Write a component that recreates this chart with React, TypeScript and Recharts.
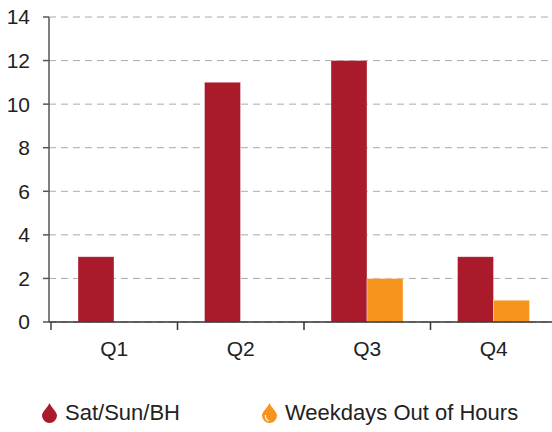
import { BarChart, Bar, XAxis, YAxis, CartesianGrid, Legend } from 'recharts';

const quarters = ['Q1', 'Q2', 'Q3', 'Q4'];
const weekendValues = [3, 11, 12, 3];
const weekdayValues = [0, 0, 2, 1];
const yTicks = [0, 2, 4, 6, 8, 10, 12, 14];

const series = [
  { key: 'weekend', name: 'Sat/Sun/BH', color: '#a91b2a' },
  { key: 'weekday', name: 'Weekdays Out of Hours', color: '#f7941e' },
];

const data = quarters.map((q, i) => ({
  quarter: q,
  weekend: weekendValues[i],
  weekday: weekdayValues[i],
}));

const FONT = '"Liberation Sans", Arial, sans-serif';
const TICK_MARGIN = 19;
const TICK_LEN = 8;

// category label at band centre, tick mark at band edge
const QuarterTick = (props: any) => {
  const { x, y, payload } = props;
  const half = payload?.offset ?? 0;
  const axisY = y - TICK_MARGIN;
  return (
    <g>
      {half > 0 && payload.index < quarters.length - 1 && (
        <line x1={x + half} x2={x + half} y1={axisY} y2={axisY + TICK_LEN} stroke="#333" strokeWidth={1.5} />
      )}
      {half > 0 && payload.index === 0 && (
        <line x1={x - half} x2={x - half} y1={axisY} y2={axisY + TICK_LEN} stroke="#444" strokeWidth={1.5} />
      )}
      <text x={x} y={y} dy="0.71em" textAnchor="middle" fontSize={21} fill="#222" fontFamily={FONT}>
        {payload.value}
      </text>
    </g>
  );
};

const Drop = ({ color, shine }: { color: string; shine?: boolean }) => (
  <svg width={15} height={20} viewBox="0 0 15 20" style={{ display: 'block' }}>
    <path d="M7.5 0 C6 4 0 9 0 12.5 A7.5 7.5 0 0 0 15 12.5 C15 9 9 4 7.5 0 Z" fill={color} />
    {shine && <path d="M3.5 12 Q3 16 6.5 18" stroke="#fff" strokeWidth={1.2} fill="none" />}
  </svg>
);

const renderLegend = () => (
  <div
    style={{
      height: 50,
      boxSizing: 'border-box',
      paddingTop: 21,
      paddingLeft: 42,
      display: 'flex',
      fontFamily: FONT,
      fontSize: 22,
      color: '#222',
    }}
  >
    {series.map((s, i) => (
      <div key={s.key} style={{ display: 'flex', alignItems: 'center', width: i === 0 ? 220 : 'auto', height: 20 }}>
        <Drop color={s.color} shine={i === 1} />
        <span style={{ marginLeft: 8, lineHeight: '20px' }}>{s.name}</span>
      </div>
    ))}
  </div>
);

export default function App() {
  return (
    <div style={{ position: 'absolute', left: 0, top: 0, width: 552, height: 432, overflow: 'hidden', background: '#fff' }}>
      <BarChart
        width={560}
        height={432}
        data={data}
        margin={{ top: 17, right: 3, bottom: 0, left: 0 }}
        barSize={36}
        barGap={0}
      >
        <CartesianGrid horizontal vertical={false} stroke="#aaa" strokeDasharray="7 5" />
        <XAxis
          dataKey="quarter"
          height={60}
          padding={{ left: 2, right: 0 }}
          axisLine={{ stroke: '#333', strokeWidth: 1.5 }}
          tickLine={false}
          tickSize={0}
          tickMargin={TICK_MARGIN}
          tick={<QuarterTick />}
          interval={0}
        />
        <YAxis
          width={49}
          domain={[0, 14]}
          ticks={yTicks}
          interval={0}
          axisLine={{ stroke: '#555', strokeWidth: 1.5 }}
          tickLine={{ stroke: '#555', strokeWidth: 1.5 }}
          tickSize={6}
          tickMargin={13}
          tick={{ fontSize: 21, fill: '#222', fontFamily: FONT }}
        />
        <Legend verticalAlign="bottom" content={renderLegend} />
        {series.map((s) => (
          <Bar
            key={s.key}
            dataKey={s.key}
            name={s.name}
            fill={s.color}
            stroke="#fff"
            strokeOpacity={0.35}
            isAnimationActive={false}
          />
        ))}
      </BarChart>
    </div>
  );
}
